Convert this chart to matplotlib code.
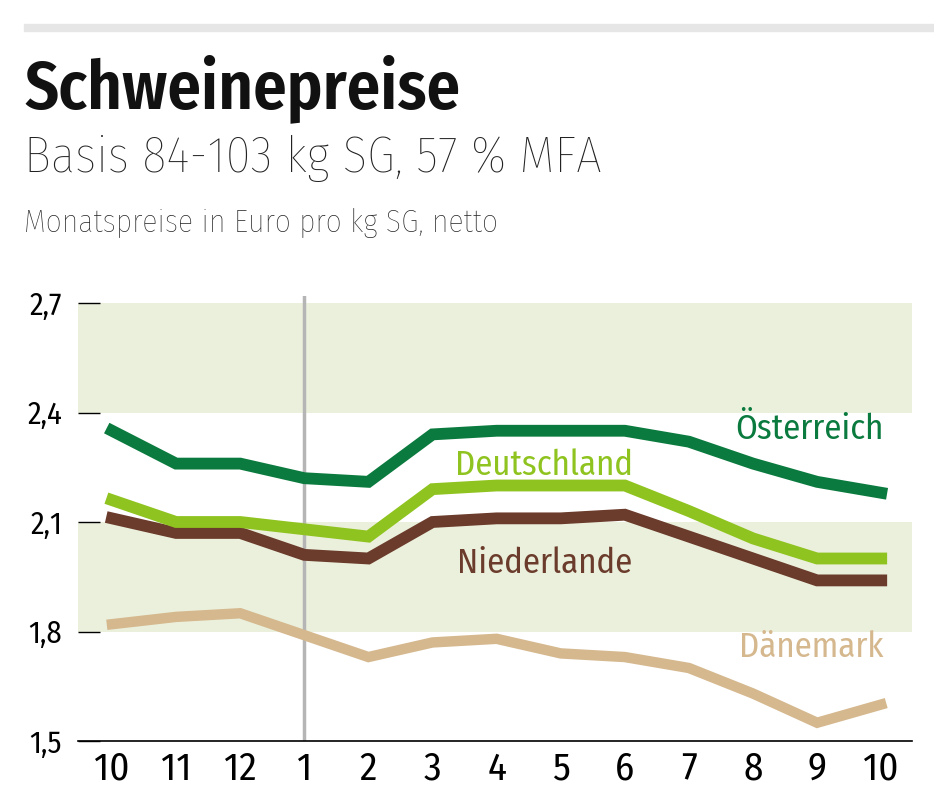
import numpy as np
import matplotlib.pyplot as plt
from matplotlib import font_manager

months = ["10", "11", "12", "1", "2", "3", "4", "5", "6", "7", "8", "9", "10"]
oesterreich = [2.35, 2.26, 2.26, 2.22, 2.21, 2.34, 2.35, 2.35, 2.35, 2.32, 2.26, 2.21, 2.18]
deutschland = [2.16, 2.10, 2.10, 2.08, 2.06, 2.19, 2.20, 2.20, 2.20, 2.13, 2.055, 2.00, 2.00]
niederlande = [2.11, 2.07, 2.07, 2.01, 2.00, 2.10, 2.11, 2.11, 2.12, 2.06, 2.00, 1.94, 1.94]
daenemark = [1.82, 1.84, 1.85, 1.79, 1.73, 1.77, 1.78, 1.74, 1.73, 1.70, 1.63, 1.55, 1.60]
yticks = [1.5, 1.8, 2.1, 2.4, 2.7]
ytick_labels = ["1,5", "1,8", "2,1", "2,4", "2,7"]

names = set(f.name for f in font_manager.fontManager.ttflist)
candidates = ["Fira Sans Condensed", "Roboto Condensed", "Open Sans Condensed",
              "PT Sans Narrow", "Archivo Narrow", "Liberation Sans Narrow", "DejaVu Sans"]
FONT = [c for c in candidates if c in names][0]
plt.rcParams['font.family'] = [FONT, 'DejaVu Sans']

fig = plt.figure(figsize=(9.34, 8.08), dpi=100)
W, H = 934, 808

# grey bar on top
fig.patches.append(plt.Rectangle((24 / W, 1 - 31 / H), 1 - 24 / W, 7 / H,
                                 transform=fig.transFigure, color="#e6e6e6", zorder=0))

fig.text(24 / W, 1 - 108 / H, "Schweinepreise", fontsize=48, fontweight="semibold",
         va="baseline", ha="left", color="#111111")
fig.text(24 / W, 1 - 172 / H, "Basis 84-103 kg SG, 57 % MFA", fontsize=36.5,
         fontweight="light", va="baseline", ha="left", color="#222222")
fig.text(24 / W, 1 - 232 / H, "Monatspreise in Euro pro kg SG, netto", fontsize=22.8,
         fontweight="light", va="baseline", ha="left", color="#222222")

ax = fig.add_axes([78 / W, (808 - 741) / H, (912 - 78) / W, (741 - 296) / H])
x = np.arange(len(months))
ax.set_xlim(-0.53, 12.48)
ax.set_ylim(1.5, 1.5 + 445 / 365)

# shaded bands
ax.axhspan(2.4, 2.7, color="#ebf0dc", zorder=0, lw=0)
ax.axhspan(1.8, 2.1, color="#ebf0dc", zorder=0, lw=0)
ax.axvline(3, color="#b5b5b5", lw=2.5, zorder=1)

ax.plot(x, daenemark, color="#d5b88e", lw=7.5, zorder=3, solid_joinstyle="miter")
ax.plot(x, niederlande, color="#6b3b2b", lw=8.5, zorder=4, solid_joinstyle="miter")
ax.plot(x, deutschland, color="#8fc31f", lw=8.5, zorder=5, solid_joinstyle="miter")
ax.plot(x, oesterreich, color="#0b7a3e", lw=8.5, zorder=6, solid_joinstyle="miter")

ax.text(12.04, 2.327, "Österreich", color="#0b7a3e", fontsize=25, ha="right", va="baseline")
ax.text(5.35, 2.229, "Deutschland", color="#8fc31f", fontsize=25, ha="left", va="baseline")
ax.text(5.38, 1.96, "Niederlande", color="#6b3b2b", fontsize=25, ha="left", va="baseline")
ax.text(12.03, 1.73, "Dänemark", color="#d5b88e", fontsize=25, ha="right", va="baseline")

for s in ["top", "right", "left"]:
    ax.spines[s].set_visible(False)
ax.spines["bottom"].set_linewidth(1.2)

ax.set_yticks(yticks)
ax.set_yticklabels(ytick_labels, fontsize=22)
ax.tick_params(axis="y", direction="in", length=16, width=1, pad=11.5)
ax.set_xticks(x)
ax.set_xticklabels(months, fontsize=28)
ax.tick_params(axis="x", length=0, pad=7)

fig.savefig("out.png", dpi=100)
